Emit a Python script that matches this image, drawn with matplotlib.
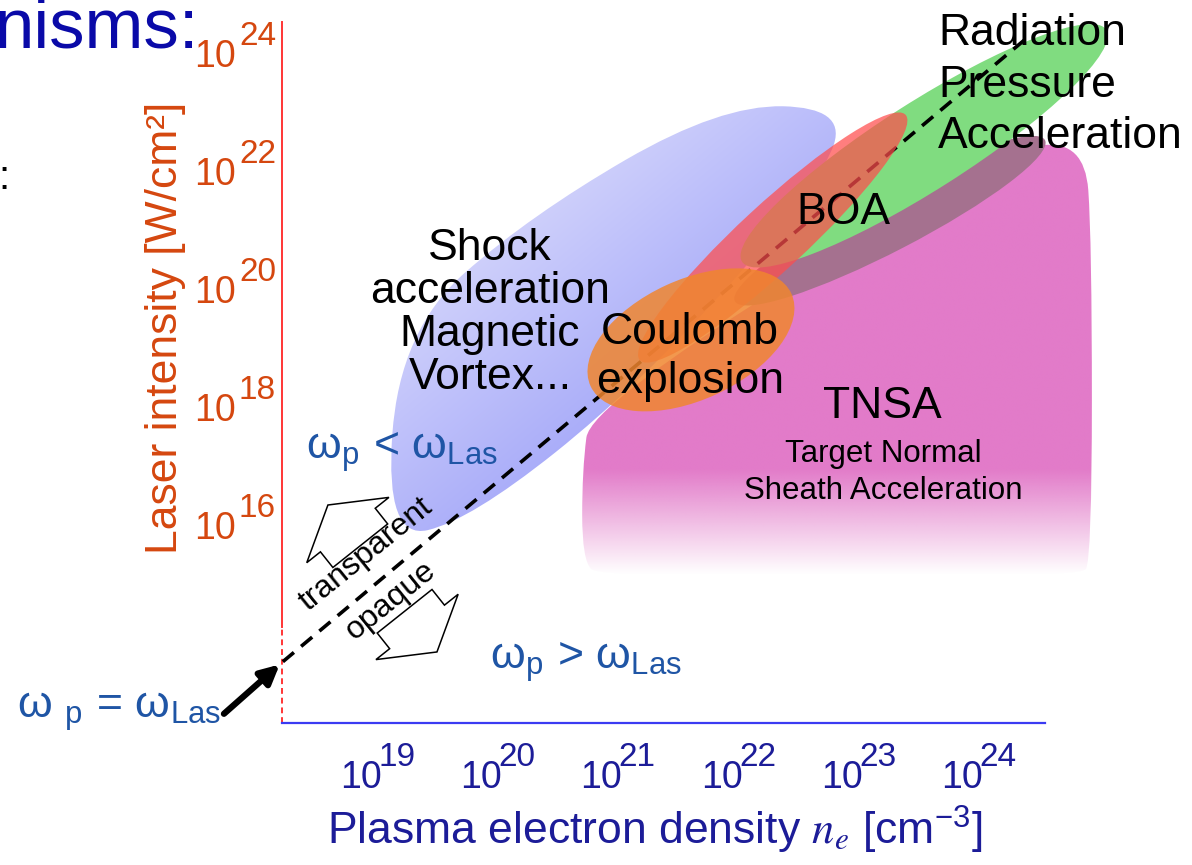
import numpy as np
import matplotlib.pyplot as plt
from matplotlib.patches import Ellipse, PathPatch, Polygon
from matplotlib.path import Path
from matplotlib.transforms import IdentityTransform

plt.rcParams["font.family"] = ["Liberation Sans", "DejaVu Sans"]
plt.rcParams["mathtext.fontset"] = "stix"

# tick exponents: log10 n_e [cm^-3] and log10 I [W/cm^2]
DENSITY_EXPONENTS = [19, 20, 21, 22, 23, 24]
INTENSITY_EXPONENTS = [16, 18, 20, 22, 24]

# omega_p = omega_Las boundary
CRITICAL_LOG_N = [18.35, 24.52]
CRITICAL_LOG_I = [13.92, 24.46]

# outlines of the broad regimes (control polygons, log10 n_e / log10 I)
SHOCK_LOG_N = [23.03, 21.99, 20.41, 19.32, 19.20, 19.91, 21.32, 22.84]
SHOCK_LOG_I = [23.31, 23.36, 21.49, 19.54, 15.98, 16.32, 18.61, 22.08]
TNSA_LOG_N = [20.91, 24.32, 25.02, 25.08, 25.08, 24.98, 20.99, 20.84, 20.84]
TNSA_LOG_I = [18.27, 22.59, 22.76, 21.07, 15.64, 15.34, 15.34, 15.64, 17.17]

# elongated regimes, given by their two tips (log10 n_e, log10 I)
OVERLAP_TIPS = [(22.11, 20.03), (24.69, 22.76)]
RPA_TIPS = [(22.17, 20.70), (25.20, 24.63)]
BOA_TIPS = [(21.32, 19.03), (23.53, 23.19)]
COULOMB_TIPS = [(20.91, 18.59), (22.58, 20.16)]

W, H = 1192, 865
TICK_RED = "#d5470f"
AXIS_BLUE = "#1c1c98"
OMEGA_BLUE = "#1f55a5"


def smooth_outline(xs, ys):
    """Closed quadratic B-spline through the midpoints of a control polygon."""
    pts = np.column_stack([xs, ys])
    mids = (pts + np.roll(pts, -1, axis=0)) / 2
    verts, codes = [mids[-1]], [Path.MOVETO]
    for p, m in zip(pts, mids):
        verts += [p, m]
        codes += [Path.CURVE3, Path.CURVE3]
    return Path(verts, codes)


def tip_ellipse(ax, tips, half_width, **kw):
    (x0, y0), (x1, y1) = ax.transData.transform(tips)
    length = np.hypot(x1 - x0, y1 - y0)
    angle = np.degrees(np.arctan2(y1 - y0, x1 - x0))
    patch = Ellipse(((x0 + x1) / 2, (y0 + y1) / 2), length, 2 * half_width,
                    angle=angle, transform=IdentityTransform(), clip_on=False,
                    linewidth=0, **kw)
    ax.add_patch(patch)
    return patch


def block_arrow(ax, tip, direction, head_w, head_l, shaft_w, shaft_l):
    t = ax.transData.transform(tip)
    d = np.asarray(direction, float)
    d /= np.hypot(*d)
    n = np.array([-d[1], d[0]])
    base = t - d * head_l
    tail = base - d * shaft_l
    pts = [t, base + n * head_w / 2, base + n * shaft_w / 2,
           tail + n * shaft_w / 2, tail - n * shaft_w / 2,
           base - n * shaft_w / 2, base - n * head_w / 2]
    ax.add_patch(Polygon(pts, closed=True, transform=IdentityTransform(),
                         facecolor="white", edgecolor="black", linewidth=1.1,
                         clip_on=False, zorder=8))


fig = plt.figure(figsize=(W / 100, H / 100), dpi=100)
ax = fig.add_axes([282 / W, (H - 723) / H, (1045 - 282) / W, (723 - 22) / H])
ax.set_xlim(18.343, 24.690)
ax.set_ylim(12.881, 24.763)
ax.set_autoscale_on(False)
for side in ax.spines.values():
    side.set_visible(False)

# axes lines
ax.plot([0, 0], [14.51, 24.763], transform=ax.get_yaxis_transform(),
        color="#ff3535", lw=1.4, clip_on=False)
ax.plot([0, 0], [12.881, 14.51], transform=ax.get_yaxis_transform(),
        color="#ff3535", lw=1.4, ls=(0, (3, 2)), clip_on=False)
ax.plot([0, 1], [0, 0], transform=ax.transAxes, color="#3b3bf2", lw=1.6,
        clip_on=False)

# ticks: "10" as the label, exponent drawn as a raised annotation
ax.set_xticks(DENSITY_EXPONENTS, ["10"] * len(DENSITY_EXPONENTS))
ax.set_yticks(INTENSITY_EXPONENTS, ["10"] * len(INTENSITY_EXPONENTS))
ax.tick_params(axis="x", length=0, pad=46.8, labelsize=27, labelcolor=AXIS_BLUE)
ax.tick_params(axis="y", length=0, pad=33, labelsize=27, labelcolor=TICK_RED)
for lbl in ax.get_xticklabels() + ax.get_yticklabels():
    lbl.set_va("baseline")
for e in DENSITY_EXPONENTS:
    ax.annotate(str(e), xy=(e, 0), xycoords=("data", "axes fraction"),
                xytext=(12.5, -31), textcoords="offset points", fontsize=24,
                color=AXIS_BLUE, ha="left", va="baseline", annotation_clip=False)
for e in INTENSITY_EXPONENTS:
    ax.annotate(str(e), xy=(0, e), xycoords=("axes fraction", "data"),
                xytext=(-31, 15.8), textcoords="offset points", fontsize=24,
                color=TICK_RED, ha="left", va="baseline", annotation_clip=False)

ax.set_xlabel(r"Plasma electron density $n_e$ [cm$\mathregular{^{-3}}$]",
              fontsize=32, color=AXIS_BLUE)
ax.xaxis.set_label_coords(0.4889, -0.174)
ax.xaxis.label.set_va("baseline")
ax.set_ylabel("Laser intensity [W/cm²]", fontsize=32, color=TICK_RED)
ax.yaxis.set_label_coords(-0.1533, 0.5635)
ax.yaxis.label.set_va("center")

# TNSA: magenta block fading out towards low intensity
tnsa_path = smooth_outline(TNSA_LOG_N, TNSA_LOG_I)
bb = tnsa_path.get_extents()
gx, gy = np.meshgrid(np.linspace(bb.x0, bb.x1, 50), np.linspace(bb.y0, bb.y1, 300))
rgba = np.zeros(gx.shape + (4,))
rgba[..., :3] = [226 / 255, 123 / 255, 201 / 255]
rgba[..., 3] = np.clip((gy - 15.39) / (17.17 - 15.39), 0, 1)
im = ax.imshow(rgba, extent=(bb.x0, bb.x1, bb.y0, bb.y1), origin="lower",
               aspect="auto", interpolation="bilinear", zorder=1,
               clip_path=PathPatch(tnsa_path, transform=ax.transData))
im.set_clip_box(fig.bbox)

# shock / magnetic vortex: lavender to blue across the region
shock_path = smooth_outline(SHOCK_LOG_N, SHOCK_LOG_I)
bb = shock_path.get_extents()
gx, gy = np.meshgrid(np.linspace(bb.x0, bb.x1, 300), np.linspace(bb.y0, bb.y1, 300))
disp = ax.transData.transform(np.column_stack([gx.ravel(), gy.ravel()]))
t = disp @ np.array([0.64, -0.77])
t = ((t - t.min()) / (t.max() - t.min())).reshape(gx.shape)
light = np.array([0.93, 0.93, 0.99])
dark = np.array([0.50, 0.52, 0.97])
ax.imshow(light + (dark - light) * t[..., None],
          extent=(bb.x0, bb.x1, bb.y0, bb.y1), origin="lower", aspect="auto",
          interpolation="bilinear", zorder=2,
          clip_path=PathPatch(shock_path, transform=ax.transData))

tip_ellipse(ax, OVERLAP_TIPS, 30, facecolor="#a5718f", zorder=3)
tip_ellipse(ax, RPA_TIPS, 44, facecolor="#80dc80", zorder=4)
ax.plot(CRITICAL_LOG_N, CRITICAL_LOG_I, color="black", lw=2.6,
        ls=(0, (4, 2.6)), zorder=5, clip_on=False)
tip_ellipse(ax, BOA_TIPS, 33, facecolor="#ff4d4d", alpha=0.72, zorder=6)
tip_ellipse(ax, COULOMB_TIPS, 60, facecolor="#f0862f", alpha=0.85, zorder=7)

# transparent / opaque side arrows
block_arrow(ax, (18.725, 16.576), (-0.62, 0.78), 105, 32, 70, 20)
block_arrow(ax, (19.632, 14.085), (0.62, -0.78), 105, 32, 70, 20)

txt = dict(color="black", fontsize=32, zorder=10)
ax.text(20.073, 19.831, "Shock\nacceleration\nMagnetic\nVortex...",
        ha="center", va="center", linespacing=1.06, **txt)
ax.text(21.737, 19.085, "Coulomb\nexplosion", ha="center", va="center",
        linespacing=1.28, **txt)
ax.text(23.010, 21.542, "BOA", ha="center", va="center", **txt)
ax.text(23.800, 23.695, "Radiation\nPressure\nAcceleration", ha="left",
        va="center", linespacing=1.32, clip_on=False, **txt)
ax.text(23.334, 18.254, "TNSA", ha="center", va="center", **txt)
ax.text(23.343, 17.12, "Target Normal\nSheath Acceleration", ha="center",
        va="center", color="black", fontsize=22.5, linespacing=1.3, zorder=10)

ax.text(19.042, 15.746, "transparent", rotation=39, rotation_mode="anchor",
        ha="center", va="center", fontsize=23, zorder=10)
ax.text(19.250, 14.949, "opaque", rotation=39, rotation_mode="anchor",
        ha="center", va="center", fontsize=23, zorder=10)

ax.text(19.341, 17.475, r"ω$_\mathregular{p}$ < ω$_\mathregular{Las}$",
        ha="center", va="center", fontsize=32, color=OMEGA_BLUE, zorder=10)
ax.text(20.872, 13.915, r"ω$_\mathregular{p}$ > ω$_\mathregular{Las}$",
        ha="center", va="center", fontsize=32, color=OMEGA_BLUE, zorder=10)
ax.annotate(r"ω $_\mathregular{p}$ = ω$_\mathregular{Las}$",
            xy=(CRITICAL_LOG_N[0], CRITICAL_LOG_I[0]),
            xytext=(119, H - 712), textcoords="figure pixels",
            ha="center", va="center", fontsize=32, color=OMEGA_BLUE,
            annotation_clip=False,
            arrowprops=dict(arrowstyle="-|>", color="black", lw=4.5,
                            mutation_scale=28, shrinkA=0, shrinkB=3,
                            relpos=(1.0, 0.4)))

# headline cut at the left edge
fig.text(199 / W, 1 - 47 / H, "nisms:", ha="right", va="baseline",
         fontsize=51, color="#0a0aa8")
fig.text(9 / W, 1 - 189 / H, ":", ha="right", va="baseline", fontsize=29,
         color="black")

fig.savefig("out.png", dpi=100)
